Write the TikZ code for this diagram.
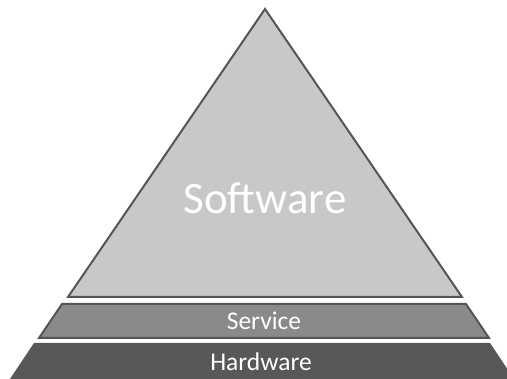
\documentclass[tikz,border=0pt]{standalone}
\usepackage{fontspec}
\setsansfont{Carlito}
\definecolor{c1}{HTML}{C8C8CA}
\definecolor{c2}{HTML}{8A8A8C}
\definecolor{c3}{HTML}{58585A}
\definecolor{edgecolor}{HTML}{555557}
\begin{document}
\begin{tikzpicture}[
    x=1pt, y=-1pt,
    every node/.style={font=\sffamily, text=white},
    tier/.style={draw=edgecolor, line width=2pt},
    big/.style={font=\sffamily\fontsize{45}{45}\selectfont},
    lab/.style={font=\sffamily\fontsize{25.5}{25.5}\selectfont},
]
\useasboundingbox (0,0) rectangle (507,379);
\clip (0,0) rectangle (507,379);

% ============================================================ top
\draw[tier, fill=c1] (265,9) -- (462,297) -- (68,297) -- cycle;
\node[big] (software) at (265,198) {Software};

% ============================================================ middle
\draw[tier, fill=c2] (62,304) -- (466,304) -- (489,338) -- (39,338) -- cycle;
\node[lab] (service) at (264,321) {Service};

% ============================================================ bottom
\fill[c3] (34,343) -- (490,343) -- (514,379) -- (10,379) -- cycle;
\node[lab] (hardware) at (261,362) {Hardware};

\end{tikzpicture}
\end{document}
